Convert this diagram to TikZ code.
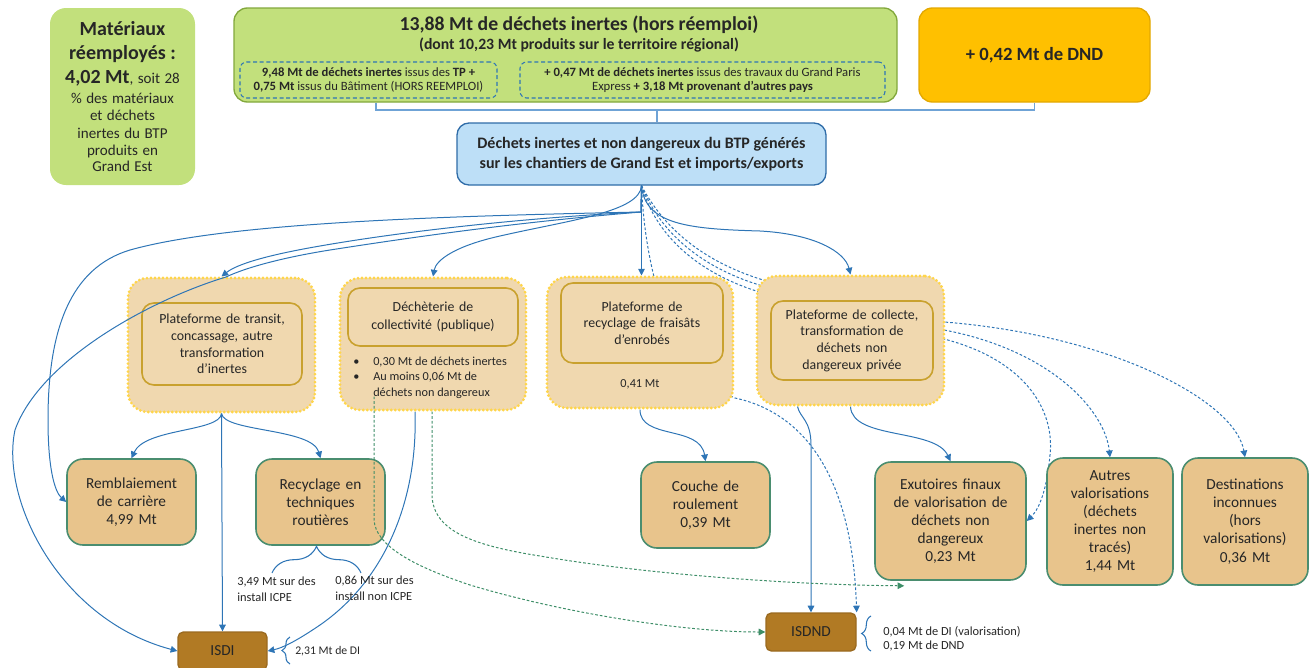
\documentclass[tikz,border=0pt]{standalone}
\usepackage{fontspec}
\setmainfont{Carlito}
\usetikzlibrary{arrows.meta,calc,decorations.pathreplacing,backgrounds}
\definecolor{txt}{HTML}{262626}
\definecolor{gfill}{HTML}{C2E07C}
\definecolor{gborder}{HTML}{82A83C}
\definecolor{ofill}{HTML}{FFC000}
\definecolor{oborder}{HTML}{E3A800}
\definecolor{bfill}{HTML}{BDDFF7}
\definecolor{bborder}{HTML}{2F6CA8}
\definecolor{pfill}{HTML}{F0D8AF}
\definecolor{pdot}{HTML}{FFD54A}
\definecolor{pin}{HTML}{C9A12E}
\definecolor{dfill}{HTML}{E8C48C}
\definecolor{dborder}{HTML}{4A8D6F}
\definecolor{sfill}{HTML}{B17A24}
\definecolor{sborder}{HTML}{9A6A20}
\definecolor{fcol}{HTML}{2E75B6}
\definecolor{feedcol}{HTML}{6FA3D6}
\definecolor{gcol}{HTML}{3E8E68}
\newcommand\fPlat{\fontsize{10.4}{12.5}\selectfont}
\newcommand\fDest{\fontsize{11.5}{13.6}\selectfont}
\newcommand\fSmall{\fontsize{9.3}{12}\selectfont}
\newcommand\fTiny{\fontsize{9.3}{10.5}\selectfont}
\newcommand\fDash{\fontsize{9.5}{10.5}\selectfont}
\begin{document}
\begin{tikzpicture}[x=0.75pt,y=-0.75pt,
  lgreen/.style={fill=gfill, draw=none, rounded corners=12pt, align=center, inner sep=0pt, text=txt},
  tgreen/.style={fill=gfill, draw=gborder, line width=1pt, rounded corners=10pt, inner sep=0pt},
  dashbox/.style={draw=fcol, line width=0.8pt, dash pattern=on 3pt off 2pt, rounded corners=5pt, align=center, inner sep=0pt, font=\fDash, text=txt},
  dndbox/.style={fill=ofill, draw=oborder, line width=1pt, rounded corners=10pt, inner sep=0pt, text=txt, font=\fontsize{14}{16}\selectfont\bfseries},
  srcstyle/.style={fill=bfill, draw=bborder, line width=1pt, rounded corners=9pt, align=center, inner sep=0pt, text=txt, font=\fontsize{12}{15.5}\selectfont\bfseries},
  plat/.style={fill=pfill, draw=pdot, line width=2.3pt, dash pattern=on 0pt off 3pt, line cap=round, rounded corners=15pt, inner sep=0pt},
  platin/.style={fill=pfill, draw=pin, line width=1.2pt, rounded corners=9pt, align=center, inner sep=0pt, font=\fPlat, text=txt},
  destbox/.style={fill=dfill, draw=dborder, line width=1.2pt, rounded corners=12pt, align=center, inner sep=0pt, font=\fDest, text=txt},
  sinkbox/.style={fill=sfill, draw=sborder, line width=1pt, rounded corners=4pt, inner sep=0pt, font=\fontsize{11.5}{13}\selectfont, text=txt},
  lbl/.style={font=\fSmall, align=left, inner sep=0pt, text=txt},
  feed/.style={draw=feedcol, line width=0.8pt},
  flow/.style={draw=fcol, line width=0.75pt, -{Triangle[width=5pt,length=5pt]}},
  dflow/.style={draw=fcol, line width=0.75pt, dash pattern=on 2pt off 1.5pt, -{Triangle[width=5pt,length=5pt]}},
  gflow/.style={draw=gcol, line width=0.75pt, dash pattern=on 2pt off 1.5pt, -{Triangle[width=5pt,length=5pt]}},
  bracestyle/.style={draw=fcol, line width=0.8pt, decorate}
]
\useasboundingbox (0,0) rectangle (1315,668);

% top row
\node[lgreen, minimum width=108.75pt, minimum height=132.75pt, text width=105pt] (reuse) at (122.5,96.5)
 {\fontsize{15}{18}\selectfont\bfseries Matériaux\\
  réemployés :\\
  4,02 Mt{\mdseries\fontsize{11.3}{17}\selectfont, soit 28}\\
  \mdseries\fontsize{11.3}{15}\selectfont \% des matériaux\\
  \fontsize{11.3}{13.2}\selectfont et déchets\\
  inertes du BTP\\
  produits en\\
  Grand Est};

\node[tgreen, minimum width=497.25pt, minimum height=70.5pt] (topg) at (565.5,55) {};
\node[text=txt, inner sep=0pt, font=\fontsize{14.8}{16}\selectfont\bfseries] (ttl) at (579,25) {13,88 Mt de déchets inertes (hors réemploi)};
\node[text=txt, inner sep=0pt, font=\fontsize{11.8}{13}\selectfont\bfseries] (sub) at (579,45) {(dont 10,23 Mt produits sur le territoire régional)};
\node[dashbox, minimum width=192.75pt, minimum height=27pt] (ldash) at (368.5,80)
 {\textbf{9,48 Mt de déchets inertes} issus des \textbf{TP +}\\ \textbf{0,75 Mt} issus du Bâtiment (HORS REEMPLOI)};
\node[dashbox, minimum width=273.75pt, minimum height=27pt] (rdash) at (702.5,80)
 {\textbf{+ 0,47 Mt de déchets inertes} issus des travaux du Grand Paris\\ Express \textbf{+ 3,18 Mt provenant d'autres pays}};

\node[dndbox, minimum width=173.25pt, minimum height=70.5pt] (dnd) at (1034.5,55) {+ 0,42 Mt de DND};

\node[srcstyle, minimum width=276.75pt, minimum height=46.5pt] (srcbox) at (641.5,154)
 {Déchets inertes et non dangereux du BTP générés\\ sur les chantiers de Grand Est et imports/exports};

% platforms
\node[plat, minimum width=140.25pt, minimum height=100.5pt] (P1) at (221.5,345) {};
\node[platin, minimum width=120pt, minimum height=61.5pt, text width=115pt] (P1i) at (222,344)
 {Plateforme de transit,\\ concassage, autre\\ transformation\\ d’inertes};

\node[plat, minimum width=139.5pt, minimum height=99pt] (P2) at (433,344) {};
\node[platin, minimum width=127.5pt, minimum height=43.5pt, text width=120pt, font=\fontsize{10.4}{13.5}\selectfont] (P2i) at (433,317)
 {Déchèterie de\\ collectivité (publique)};
\node[anchor=north west, inner sep=0pt, text=txt, font=\fontsize{9.2}{11.6}\selectfont] (P2t) at (353,354)
 {\begin{tabular}{@{}p{15pt}@{}l@{}}\textbullet & 0,30 Mt de déchets inertes\\ \textbullet & Au moins 0,06 Mt de\\ & déchets non dangereux\end{tabular}};

\node[plat, minimum width=139.5pt, minimum height=98.25pt] (P3) at (640,342.5) {};
\node[platin, minimum width=121.5pt, minimum height=60pt, text width=115pt] (P3i) at (642,323)
 {Plateforme de\\ recyclage de fraisâts\\ d’enrobés};
\node[inner sep=0pt, text=txt, font=\fontsize{9.2}{11}\selectfont] (P3t) at (640,384) {0,41 Mt};

\node[plat, minimum width=140.25pt, minimum height=96.75pt] (P4) at (850.5,340.5) {};
\node[platin, minimum width=121.5pt, minimum height=59.25pt, text width=115pt] (P4i) at (852,340.5)
 {Plateforme de collecte,\\ transformation de\\ déchets non\\ dangereux privée};

% destinations
\node[destbox, minimum width=96.75pt, minimum height=64.5pt, text width=92pt] (Rem) at (131.5,502) {Remblaiement\\ de carrière\\ 4,99 Mt};
\node[destbox, minimum width=96.75pt, minimum height=64.5pt, text width=92pt] (Rec) at (320.5,502) {Recyclage en\\ techniques\\ routières};
\node[destbox, minimum width=96.75pt, minimum height=64.5pt, text width=92pt] (Couche) at (705.5,505) {Couche de\\ roulement\\ 0,39 Mt};
\node[destbox, minimum width=113.25pt, minimum height=88.5pt, text width=108pt] (Exut) at (950.5,521) {Exutoires finaux\\ de valorisation de\\ déchets non\\ dangereux\\ 0,23 Mt};
\node[destbox, minimum width=94.5pt, minimum height=95.25pt, text width=90pt] (Autres) at (1110,521.5) {Autres\\ valorisations\\ (déchets\\ inertes non\\ tracés)\\ 1,44 Mt};
\node[destbox, minimum width=94.5pt, minimum height=95.25pt, text width=90pt] (Dest) at (1245,521.5) {Destinations\\ inconnues\\ (hors\\ valorisations)\\ 0,36 Mt};

\node[sinkbox, minimum width=66.75pt, minimum height=28.5pt] (ISDI) at (222.5,651) {ISDI};
\node[sinkbox, minimum width=67.5pt, minimum height=28.5pt] (ISDND) at (811,632) {ISDND};

% labels
\node[lbl, anchor=north west] (l349) at (237,577) {3,49 Mt sur des\\ install ICPE};
\node[lbl, anchor=north west] (l086) at (335,576) {0,86 Mt sur des\\ install non ICPE};
\node[lbl, anchor=west, font=\fontsize{8.8}{11}\selectfont] (lisdi) at (295,651) {2,31 Mt de DI};
\node[lbl, anchor=west, font=\fTiny] (lisdnd) at (883,639) {0,04 Mt de DI (valorisation)\\ 0,19 Mt de DND};

% braces
\coordinate (brA) at (272,573);
\coordinate (brB) at (361,573);
\draw[bracestyle, decoration={brace, amplitude=20pt}] (brA) -- (brB);
\coordinate (brC) at (290,664);
\coordinate (brD) at (290,637);
\draw[bracestyle, decoration={brace, amplitude=6pt}] (brC) -- (brD);
\coordinate (brE) at (871,651);
\coordinate (brF) at (871,616);
\draw[bracestyle, decoration={brace, amplitude=7pt}] (brE) -- (brF);

\coordinate (J) at (641,212);
\coordinate (tbl) at (376,110);
\coordinate (bus) at (657,110);

\begin{scope}[on background layer]
 \draw[feed] (tbl |- topg.south) -- (tbl) -- (bus) -| (dnd.south);
 \draw[feed] (bus) -- (bus |- srcbox.north);
 % solid flows from source
 \draw[flow] (srcbox.south) -- (srcbox.south |- P3.north);
 \draw[flow] (srcbox.south) .. controls (645,225) and (690,229) .. (760,231) .. controls (815,234) and (845,252) .. (P4.north);
 \draw[flow] (srcbox.south) .. controls (640,212) and (570,220) .. (500,236) .. controls (455,246) and (436,260) .. (P2.north);
 \draw[flow] (srcbox.south) -- (J) .. controls (450,216) and (230,222) .. (130,250) .. controls (70,268) and (48,330) .. (48,420) .. controls (48,470) and (55,492) .. (Rem.west);
 \draw[flow] (srcbox.south) -- (J) .. controls (520,218) and (400,232) .. (320,246) .. controls (262,256) and (236,265) .. (P1.north);
 % dotted from source
 \draw[dflow] (srcbox.south) .. controls (645,270) and (670,370) .. (735,398) .. controls (800,412) and (852,470) .. (ISDND.north east);
 \draw[dflow] (srcbox.south) .. controls (660,250) and (720,282) .. (770,295) -- (944,339) .. controls (1025,360) and (1055,410) .. (1050,455) .. controls (1047,488) and (1040,508) .. (Exut.east);
 \draw[dflow] (srcbox.south) .. controls (665,245) and (720,275) .. (770,288) -- (944,330) .. controls (1050,350) and (1105,410) .. (Autres.north);
 \draw[dflow] (srcbox.south) .. controls (670,240) and (720,268) .. (770,282) -- (944,322) .. controls (1110,335) and (1235,400) .. (Dest.north);
 % platform outputs
 \draw[flow] (P1.south) .. controls (220,432) and (145,428) .. (Rem.north);
 \draw[flow] (P1.south) .. controls (224,432) and (312,428) .. (Rec.north);
 \draw[flow] (P1.south) -- (ISDI.north);
 \draw[flow] ($(P2.south)+(-18,0)$) .. controls (418,500) and (385,580) .. (320,625) .. controls (295,642) and (282,648) .. (ISDI.east);
 \draw[flow] (P3.south) .. controls (640,440) and (700,425) .. (Couche.north);
 \draw[flow] ($(P4.south)+(-53,0)$) .. controls (800,418) and (811,420) .. (811,445) -- (ISDND.north);
 \draw[flow] (P4.south) .. controls (852,440) and (935,428) .. (Exut.north);
\end{scope}

% lines drawn over platforms
\draw[flow] (srcbox.south) -- (J) .. controls (520,222) and (420,236) .. (330,250) .. controls (280,258) and (245,268) .. (226,277) .. controls (150,300) and (40,360) .. (15,430) .. controls (0,500) and (60,620) .. (ISDI.west);
\draw[gflow] ($(P2.south)+(-59,-15)$) -- (374,520) .. controls (376,545) and (410,565) .. (470,585) .. controls (560,612) and (680,632) .. (ISDND.west);
\draw[gflow] ($(P2.south)+(-1,0)$) -- (432,495) .. controls (433,530) and (470,545) .. (540,556) .. controls (650,575) and (800,585) .. ($(Exut.south west)+(30,5)$);
\end{tikzpicture}
\end{document}
